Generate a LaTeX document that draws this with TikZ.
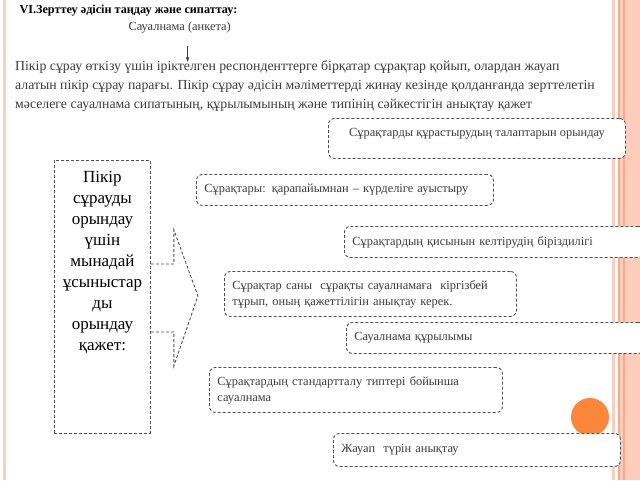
\documentclass[tikz,border=0pt]{standalone}
\usepackage{fontspec}
\setmainfont{Liberation Serif}
\usepackage{xcolor}
\usetikzlibrary{positioning,shapes,arrows}
\definecolor{stripelight}{RGB}{252,205,186}
\definecolor{stripedark}{RGB}{246,170,140}
\definecolor{dotorange}{RGB}{252,134,58}
\definecolor{boxline}{RGB}{80,80,80}
\definecolor{boxtext}{RGB}{60,60,60}

\tikzset{
  dashbox/.style={draw=boxline, line width=0.9pt, dash pattern=on 3pt off 2pt, rounded corners=6pt,
    fill=white, anchor=north west, inner xsep=8pt, align=left, text=boxtext,
    font=\fontsize{12.4}{16}\selectfont},
  plain/.style={draw=boxline, line width=0.9pt, dash pattern=on 3pt off 2pt}
}

\begin{document}
\begin{tikzpicture}[x=1pt,y=-1pt]
\useasboundingbox (0,0) rectangle (640,480);
\fill[white] (0,0) rectangle (640,480);

% slide decoration
\fill[stripelight] (3,0) rectangle (6,480);
\fill[stripelight] (612,0) rectangle (614.5,480);
\fill[stripelight] (618,0) rectangle (640,480);
\fill[stripedark] (618,0) rectangle (620,480);
\fill[stripedark] (623,0) rectangle (625,480);
\fill[dotorange] (590,417) circle (19);

% heading
\node[anchor=west, font=\fontsize{12.2}{14}\selectfont\bfseries] (taqyryp) at (16,11) {VI.Зерттеу әдісін таңдау және сипаттау:};
\node[anchor=west, text=boxtext, font=\fontsize{12.4}{14}\selectfont] (anketa) at (125,28) {Сауалнама (анкета)};
\draw[-latex, line width=0.7pt, boxtext] ([xshift=8pt,yshift=-9pt]anketa.south) -- ([xshift=8pt,yshift=-25pt]anketa.south);

\node[anchor=north west, align=left, inner sep=0pt, text=boxtext, font=\fontsize{13.8}{19}\selectfont] (sipattama) at (15,60)
  {Пікір сұрау өткізу үшін іріктелген респонденттерге бірқатар сұрақтар қойып, олардан жауап\\
   алатын пікір сұрау парағы. Пікір сұрау әдісін мәліметтерді жинау кезінде қолданғанда зерттелетін\\
   мәселеге сауалнама сипатының, құрылымының және типінің сәйкестігін анықтау қажет};

% left box with arrow
\node[plain, anchor=north west, minimum width=96pt, minimum height=273pt] (usynys) at (54,160) {};
\node[below=11pt of usynys.north, align=center, inner sep=0pt, font=\fontsize{17}{21}\selectfont] (usynysmatin)
  {Пікір\\ сұрауды\\ орындау\\ үшін\\ мынадай\\ ұсыныстар\\ ды\\ орындау\\ қажет:};
\draw[plain] (usynys.east) ++(0,-33) -- ++(23,0) -- ++(0,-34) -- ++(24,66) -- ++(-24,70) -- ++(0,-34) -- ++(-23,0);

% requirement boxes
\node[dashbox, align=center, minimum width=297pt, minimum height=40pt, text depth=12pt] (talap) at (328,118)
  {Сұрақтарды құрастырудың талаптарын орындау};
\node[dashbox, minimum width=297pt, minimum height=31pt, text width=281pt] (qarapaiym) at (196,174)
  {Сұрақтары: қарапайымнан – күрделіге ауыстыру};
\node[dashbox, minimum width=300pt, minimum height=31pt, text width=284pt] (qisyn) at (344,226)
  {Сұрақтардың қисынын келтірудің біріздилігі};
\node[dashbox, minimum width=292pt, minimum height=45pt, text width=276pt] (sany) at (224,271)
  {Сұрақтар саны \ сұрақты сауалнамаға \ кіргізбей\\ тұрып, оның қажеттілігін анықтау керек.};
\node[dashbox, minimum width=298pt, minimum height=31pt, text width=282pt] (qurylym) at (346,322)
  {Сауалнама құрылымы};
\node[dashbox, minimum width=293pt, minimum height=45pt, text width=277pt] (standart) at (209,367)
  {Сұрақтардың стандартталу типтері бойынша\\ сауалнама};
\node[dashbox, minimum width=287pt, minimum height=33pt, text width=271pt] (jauap) at (333,433)
  {Жауап \ түрін анықтау};
\end{tikzpicture}
\end{document}
